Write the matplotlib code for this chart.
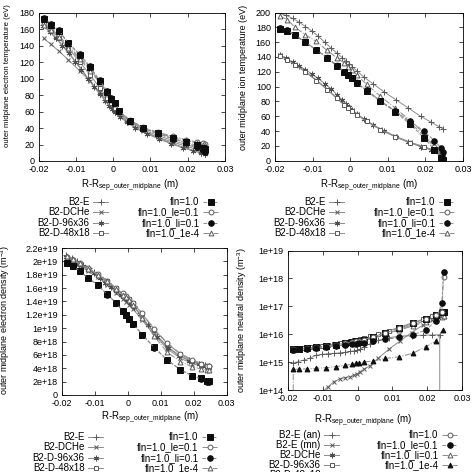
import matplotlib
matplotlib.use("Agg")
import matplotlib.pyplot as plt
from matplotlib.lines import Line2D

plt.rcParams["font.family"] = ["Liberation Sans", "DejaVu Sans"]
plt.rcParams["mathtext.default"] = "regular"
plt.rcParams["font.size"] = 6.5

# radial grids (m)
x_f = [-0.0186, -0.0167, -0.0146, -0.012, -0.009, -0.0062, -0.0036, -0.0016, -0.0005, 0.0005,
       0.0017, 0.0044, 0.008, 0.012, 0.016, 0.0196, 0.0224, 0.0242, 0.0247]
x_d = [-0.0187, -0.017, -0.0153, -0.0136, -0.0119, -0.0102, -0.0085, -0.0068, -0.0051, -0.0035,
       -0.0021, -0.001, -0.0002, 0.0006, 0.0018, 0.0036, 0.006, 0.009, 0.0122, 0.0155,
       0.0187, 0.0215, 0.0236, 0.0247]

# electron temperature (eV)
te_b2e = [165, 158, 150, 141, 132, 122, 112, 101, 91, 82, 74, 68, 64, 60, 55, 48, 41, 34, 28, 22, 17, 13, 10, 9]
te_dche = [149, 142, 134, 123, 110, 97, 84, 74, 68, 63, 57, 46, 36, 29, 23, 18, 14, 11, 10]
te_96 = [164, 157, 149, 140, 131, 121, 111, 100, 90, 81, 73, 67, 63, 59, 54, 47, 40, 33, 27, 21, 16, 12, 10, 9]
te_48 = [166, 159, 150, 137, 121, 105, 89, 77, 70, 65, 59, 48, 38, 31, 25, 20, 16, 13, 12]
te_fln = [173, 166, 158, 143, 129, 114, 97, 84, 76, 71, 61, 49, 40, 33.5, 27.5, 23, 19, 16, 14]
te_le = [167, 161, 153, 140, 126, 112, 96, 83, 75, 70, 61, 50, 41, 35, 30, 26, 23, 22, 21]
te_li = [174, 167, 159, 144, 130, 115, 98, 85, 77, 71, 61, 49, 40, 33, 27, 22, 17, 13, 11]
te_1e4 = [165, 159, 151, 138, 124, 110, 95, 82, 74, 69, 60, 49, 40, 34, 29, 25, 22, 20, 19]

# ion temperature (eV)
ti_b2e = [199, 196, 192, 187, 181, 175, 168, 160, 152, 145, 139, 134, 131, 127, 121, 113, 104, 93, 82, 71, 60, 52, 46, 43]
ti_dche = [143, 137, 130, 121, 109, 97, 85, 76, 72, 68, 63, 54, 43, 33, 25, 19, 14, 11, 9]
ti_96 = [142, 138, 133, 128, 123, 117, 111, 104, 97, 89, 82, 76, 72, 68, 63, 56, 48, 40, 32, 25, 19, 15, 12, 10]
ti_48 = [141, 136, 129, 120, 108, 96, 84, 75, 71, 67, 62, 53, 42, 32, 24, 18, 13, 10, 8]
ti_fln = [178, 175, 169, 160, 149, 139, 128, 120, 115, 112, 105, 94, 80, 66, 49, 31, 15, 4, 1]
ti_le = [179, 176, 170, 160, 150, 140, 129, 120, 115, 112, 106, 95, 81, 67, 51, 34, 18, 7, 3]
ti_li = [179, 176, 169, 160, 150, 139, 128, 120, 115, 112, 105, 95, 81, 67, 53, 40, 27, 17, 12]
ti_1e4 = [195, 190, 180, 170, 161, 149, 139, 132, 127, 123, 116, 103, 87, 71, 54, 37, 20, 9, 5]

# electron density (1e19 m^-3)
ne_b2e = [2.09, 2.05, 2.0, 1.95, 1.9, 1.84, 1.77, 1.7, 1.63, 1.56, 1.5, 1.46, 1.43, 1.39, 1.33, 1.22,
          1.06, 0.88, 0.72, 0.6, 0.52, 0.47, 0.45, 0.44]
ne_dche = [2.04, 1.99, 1.93, 1.85, 1.76, 1.65, 1.53, 1.44, 1.39, 1.35, 1.28, 1.12, 0.9, 0.69, 0.55, 0.47, 0.43, 0.41, 0.40]
ne_96 = [2.07, 2.03, 1.98, 1.93, 1.88, 1.82, 1.75, 1.68, 1.62, 1.55, 1.49, 1.45, 1.42, 1.38, 1.32, 1.21,
         1.05, 0.87, 0.71, 0.59, 0.51, 0.46, 0.44, 0.43]
ne_48 = [2.05, 2.01, 1.96, 1.88, 1.8, 1.7, 1.6, 1.51, 1.47, 1.43, 1.37, 1.21, 0.98, 0.77, 0.61, 0.51, 0.46, 0.43, 0.42]
ne_fln = [1.975, 1.925, 1.85, 1.75, 1.64, 1.505, 1.38, 1.26, 1.19, 1.14, 1.065, 0.905, 0.715, 0.525, 0.38, 0.29, 0.25, 0.215, 0.205]
ne_le = [2.06, 2.02, 1.97, 1.9, 1.81, 1.71, 1.6, 1.52, 1.48, 1.44, 1.38, 1.22, 0.99, 0.78, 0.62, 0.53, 0.47, 0.44, 0.43]
ne_li = [1.98, 1.93, 1.85, 1.75, 1.64, 1.5, 1.38, 1.255, 1.19, 1.14, 1.06, 0.9, 0.71, 0.52, 0.375, 0.285, 0.24, 0.2, 0.19]
ne_1e4 = [2.08, 2.03, 1.97, 1.89, 1.8, 1.7, 1.59, 1.5, 1.46, 1.42, 1.35, 1.15, 0.88, 0.64, 0.5, 0.42, 0.39, 0.38, 0.37]

# neutral density (m^-3)
x_tri = [-0.0186, -0.0185, -0.0167, -0.0146, -0.012, -0.009, -0.0062, -0.0036, -0.0016, -0.0005,
         0.0005, 0.0017, 0.0044, 0.008, 0.012, 0.016, 0.0196, 0.0224, 0.0244]
n0_an = [9.0e14, 1.05e15, 1.2e15, 1.4e15, 1.75e15, 1.9e15, 2.0e15, 2.05e15, 2.15e15, 2.25e15, 2.4e15, 2.5e15,
         2.65e15, 2.9e15, 3.4e15, 4.6e15, 6.0e15, 7.5e15, 8.5e15, 8.9e15, 9.2e15, 9.4e15, 9.5e15, 0]
n0_mn = [1.5e13, 2e13, 2.8e13, 4e13, 6e13, 8.5e13, 1.3e14, 2.0e14, 2.5e14, 2.8e14, 3.0e14, 3.4e14,
         3.7e14, 4.5e14, 5.5e14, 7.5e14, 1.4e15, 2.9e15, 5.7e15, 1.15e16, 2.1e16, 3.2e16, 4.0e16, 4.3e16]
n0_dche = [2.7e15, 2.85e15, 3.0e15, 3.2e15, 3.5e15, 3.9e15, 4.3e15, 4.7e15, 5.0e15, 5.3e15, 5.7e15, 7.2e15,
           1.0e16, 1.5e16, 2.2e16, 3.1e16, 4.2e16, 5.0e16, 5.2e16]
n0_96 = [3.0e15, 3.1e15, 3.25e15, 3.4e15, 3.6e15, 3.85e15, 4.1e15, 4.4e15, 4.8e15, 5.2e15, 5.6e15, 6.0e15,
         6.3e15, 6.6e15, 7.2e15, 8.3e15, 1.02e16, 1.35e16, 1.8e16, 2.5e16, 3.4e16, 4.4e16, 5.5e16, 6.0e16]
n0_48 = [2.9e15, 3.0e15, 3.2e15, 3.4e15, 3.8e15, 4.2e15, 4.7e15, 5.2e15, 5.6e15, 5.9e15, 6.4e15, 8.0e15,
         1.12e16, 1.65e16, 2.5e16, 3.5e16, 4.8e16, 6.2e16, 6.5e16]
n0_fln = [2.9e15, 3.05e15, 3.2e15, 3.45e15, 3.8e15, 4.2e15, 4.7e15, 5.2e15, 5.6e15, 5.9e15, 6.4e15, 8.0e15,
          1.12e16, 1.65e16, 2.5e16, 3.6e16, 5.0e16, 6.3e16, 1.1e18]
n0_le = [2.8e15, 2.9e15, 3.0e15, 3.2e15, 3.5e15, 3.8e15, 4.1e15, 4.4e15, 4.6e15, 4.8e15, 5.0e15, 5.7e15,
         6.6e15, 7.8e15, 9.6e15, 1.4e16, 3.0e16, 1.3e17, 1.7e18]
n0_li = [2.8e15, 2.95e15, 3.1e15, 3.3e15, 3.6e15, 4.0e15, 4.4e15, 4.8e15, 5.1e15, 5.4e15, 5.8e15, 7.2e15,
         9.8e15, 1.4e16, 2.0e16, 2.8e16, 3.6e16, 4.2e16, 4.5e16]
n0_1e4 = [0, 5.5e14, 5.6e14, 5.7e14, 6.0e14, 6.3e14, 6.9e14, 7.6e14, 8.5e14, 9.0e14, 9.5e14, 1.0e15,
          1.1e15, 1.35e15, 1.55e15, 2.1e15, 3.6e15, 5.5e15, 1.4e16]

ne_ticks = [0, 0.2, 0.4, 0.6, 0.8, 1.0, 1.2, 1.4, 1.6, 1.8, 2.0, 2.2]
ne_ticklabels = ["0", "2e+18", "4e+18", "6e+18", "8e+18", "1e+19", "1.2e+19", "1.4e+19",
                 "1.6e+19", "1.8e+19", "2e+19", "2.2e+19"]
n0_ticks = [1e14, 1e15, 1e16, 1e17, 1e18, 1e19]
n0_ticklabels = ["1e+14", "1e+15", "1e+16", "1e+17", "1e+18", "1e+19"]
xticks = [-0.02, -0.01, 0, 0.01, 0.02, 0.03]
xticklabels = ["-0.02", "-0.01", "0", "0.01", "0.02", "0.03"]

LC = "0.55"
OPEN = dict(mfc="white", mec="0.35")
FILL = dict(mfc="0.05", mec="0.05")
sty = {
    "plus": dict(marker="+", ms=4, mec="0.35", ls="-"),
    "cross": dict(marker="x", ms=3.5, mec="0.35", ls="-"),
    "star": dict(marker=(6, 2, 0), ms=4, mec="0.3", ls="-"),
    "osq": dict(marker="s", ms=3.5, ls="-", **OPEN),
    "fsq": dict(marker="s", ms=4, ls="--", **FILL),
    "ocir": dict(marker="o", ms=3.5, ls="-.", **OPEN),
    "fcir": dict(marker="o", ms=4, ls="--", **FILL),
    "otri": dict(marker="^", ms=3.5, ls="-.", **OPEN),
    "ftri": dict(marker="^", ms=3.5, ls="-.", **FILL),
}


def draw(ax, x, y, key, label):
    ax.plot(x, y, color=LC, lw=0.7, mew=0.7, label=label, **sty[key])


def handle(key):
    return Line2D([], [], color=LC, lw=0.7, mew=0.7, **sty[key])


def frame(ax, ylabel, ylab_xy, xlab_xy, ysize=6.5):
    ax.set_xlim(-0.02, 0.03)
    ax.set_xticks(xticks)
    ax.set_xticklabels(xticklabels)
    ax.tick_params(direction="in", top=True, right=True, length=3, width=0.5, pad=3, labelsize=6.5)
    ax.minorticks_off()
    for s in ax.spines.values():
        s.set_linewidth(0.6)
    ax.set_ylabel(ylabel, fontsize=ysize)
    ax.yaxis.set_label_coords(*ylab_xy)
    ax.set_xlabel("R-R$_{sep\\_outer\\_midplane}$ (m)", fontsize=7)
    ax.xaxis.set_label_coords(*xlab_xy)


def legends(ax, left, right, anchor_l, anchor_r, spacing=0.05):
    common = dict(loc="upper right", frameon=False, markerfirst=False, fontsize=7,
                  handlelength=1.5, handletextpad=0.4, labelspacing=spacing, borderpad=0,
                  borderaxespad=0, bbox_transform=fig.transFigure)
    lg1 = ax.legend([handle(k) for k, _ in left], [t for _, t in left], bbox_to_anchor=anchor_l, **common)
    ax.add_artist(lg1)
    ax.legend([handle(k) for k, _ in right], [t for _, t in right], bbox_to_anchor=anchor_r, **common)


fig = plt.figure(figsize=(4.74, 4.72), dpi=100)
W, H = 474.0, 472.0


def axes_px(l, r, t, b):
    return fig.add_axes([l / W, 1 - b / H, (r - l) / W, (b - t) / H])


fln_entries = [("fsq", "fln=1.0"), ("ocir", "fln=1.0_le=0.1"), ("fcir", "fln=1.0_li=0.1"), ("otri", "fln=1.0_1e-4")]
b2_entries = [("plus", "B2-E"), ("cross", "B2-DCHe"), ("star", "B2-D-96x36"), ("osq", "B2-D-48x18")]

# top left: electron temperature
ax1 = axes_px(38.5, 225, 13, 161)
draw(ax1, x_d, te_b2e, "plus", "B2-E")
draw(ax1, x_f, te_dche, "cross", "B2-DCHe")
draw(ax1, x_d, te_96, "star", "B2-D-96x36")
draw(ax1, x_f, te_48, "osq", "B2-D-48x18")
draw(ax1, x_f, te_le, "ocir", "fln=1.0_le=0.1")
draw(ax1, x_f, te_1e4, "otri", "fln=1.0_1e-4")
draw(ax1, x_f, te_fln, "fsq", "fln=1.0")
draw(ax1, x_f, te_li, "fcir", "fln=1.0_li=0.1")
ax1.set_ylim(0, 180)
ax1.set_yticks(range(0, 181, 20))
frame(ax1, "outer midplane electron temperature (eV)", (-0.145, 0.58), (0.49, -0.115), ysize=5.6)
legends(ax1, b2_entries, fln_entries, (108 / W, 1 - 197 / H), (218 / W, 1 - 197 / H))

# top right: ion temperature
ax2 = axes_px(275, 463, 12.5, 160.7)
draw(ax2, x_d, ti_b2e, "plus", "B2-E")
draw(ax2, x_f, ti_dche, "cross", "B2-DCHe")
draw(ax2, x_d, ti_96, "star", "B2-D-96x36")
draw(ax2, x_f, ti_48, "osq", "B2-D-48x18")
draw(ax2, x_f, ti_1e4, "otri", "fln=1.0_1e-4")
draw(ax2, x_f, ti_le, "ocir", "fln=1.0_le=0.1")
draw(ax2, x_f, ti_fln, "fsq", "fln=1.0")
draw(ax2, x_f, ti_li, "fcir", "fln=1.0_li=0.1")
ax2.set_ylim(0, 200)
ax2.set_yticks(range(0, 201, 20))
frame(ax2, "outer midplane ion temperature (eV)", (-0.141, 0.56), (0.5, -0.115))
legends(ax2, b2_entries, fln_entries, (344 / W, 1 - 197 / H), (454 / W, 1 - 197 / H))

# bottom left: electron density
ax3 = axes_px(62, 226.5, 248, 395)
draw(ax3, x_d, ne_b2e, "plus", "B2-E")
draw(ax3, x_f, ne_dche, "cross", "B2-DCHe")
draw(ax3, x_d, ne_96, "star", "B2-D-96x36")
draw(ax3, x_f, ne_48, "osq", "B2-D-48x18")
draw(ax3, x_f, ne_le, "ocir", "fln=1.0_le=0.1")
draw(ax3, x_f, ne_1e4, "otri", "fln=1.0_1e-4")
draw(ax3, x_f, ne_fln, "fsq", "fln=1.0")
draw(ax3, x_f, ne_li, "fcir", "fln=1.0_li=0.1")
ax3.set_ylim(0, 2.2)
ax3.set_yticks(ne_ticks)
ax3.set_yticklabels(ne_ticklabels)
frame(ax3, "outer midplane electron density (m$^{-3}$)", (-0.301, 0.51), (0.535, -0.102))
legends(ax3, b2_entries, fln_entries, (103 / W, 1 - 432 / H), (217 / W, 1 - 432 / H))

# bottom right: neutral density
ax4 = axes_px(288, 462, 250.5, 390)
ax4.set_yscale("log", nonpositive="clip")
draw(ax4, x_d, n0_an, "plus", "B2-E (an)")
draw(ax4, x_d, n0_mn, "cross", "B2-E (mn)")
draw(ax4, x_f, n0_dche, "star", "B2-DCHe")
draw(ax4, x_d, n0_96, "osq", "B2-D-96x36")
draw(ax4, x_f, n0_li, "otri", "fln=1.0_li=0.1")
draw(ax4, x_f, n0_48, "fsq", "B2-D-48x18")
draw(ax4, x_f, n0_fln, "ocir", "fln=1.0")
draw(ax4, x_f, n0_le, "fcir", "fln=1.0_le=0.1")
draw(ax4, x_tri, n0_1e4, "ftri", "fln=1.0_1e-4")
ax4.set_ylim(1e14, 1e19)
ax4.set_yticks(n0_ticks)
ax4.set_yticklabels(n0_ticklabels)
frame(ax4, "outer midplane neutral density (m$^{-3}$)", (-0.227, 0.5), (0.43, -0.163))
legends(ax4,
        [("plus", "B2-E (an)"), ("cross", "B2-E (mn)"), ("star", "B2-DCHe"), ("osq", "B2-D-96x36"), ("fsq", "B2-D-48x18")],
        [("ocir", "fln=1.0"), ("fcir", "fln=1.0_le=0.1"), ("otri", "fln=1.0_li=0.1"), ("ftri", "fln=1.0_1e-4")],
        (339 / W, 1 - 430 / H), (457 / W, 1 - 430 / H), spacing=0.0)

fig.savefig("out.png", dpi=100)
